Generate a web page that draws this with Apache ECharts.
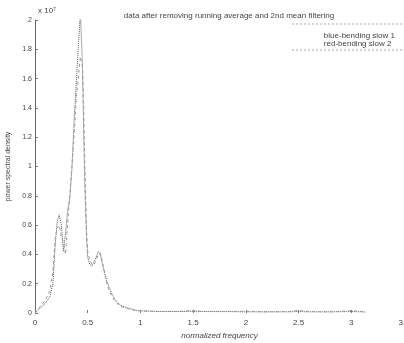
<!DOCTYPE html>
<html>
<head>
<meta charset="UTF-8">
<title>PSD</title>
<script src="https://cdn.jsdelivr.net/npm/echarts@6/dist/echarts.min.js"></script>
<style>
  html, body { margin: 0; padding: 0; background: #fff; }
  #main { width: 404px; height: 343px; }
</style>
</head>
<body>
<div id="main"></div>
<script type="text/javascript">
// normalized frequency samples
var freqs = [0, 0.03, 0.06, 0.1, 0.14, 0.17, 0.19, 0.21, 0.23, 0.25,
  0.27, 0.29, 0.31, 0.33, 0.35, 0.37, 0.39, 0.41, 0.43, 0.45,
  0.46, 0.47, 0.48, 0.49, 0.5, 0.52, 0.54, 0.56, 0.58, 0.6,
  0.62, 0.64, 0.66, 0.68, 0.7, 0.73, 0.76, 0.8, 0.85, 0.9,
  0.95, 1.0, 1.1, 1.2, 1.4, 1.5, 1.6, 1.8, 2.0, 2.2,
  2.4, 2.5, 2.6, 2.8, 3.0, 3.1, 3.14];
// blue-bending slow 1
var slow1 = [0, 0.02, 0.04, 0.07, 0.11, 0.2, 0.45, 0.62, 0.67, 0.6,
  0.42, 0.55, 0.7, 0.78, 0.98, 1.3, 1.55, 1.8, 2.05, 1.7,
  1.3, 0.95, 0.7, 0.5, 0.38, 0.33, 0.32, 0.35, 0.38, 0.42,
  0.4, 0.33, 0.27, 0.22, 0.18, 0.13, 0.09, 0.06, 0.04, 0.03,
  0.02, 0.015, 0.012, 0.01, 0.01, 0.012, 0.01, 0.01, 0.008, 0.008,
  0.008, 0.01, 0.008, 0.008, 0.01, 0.008, 0.006];
// red-bending slow 2
var slow2 = [0, 0.03, 0.05, 0.09, 0.15, 0.28, 0.5, 0.58, 0.6, 0.52,
  0.48, 0.4, 0.62, 0.8, 1.0, 1.2, 1.45, 1.6, 1.75, 1.68,
  1.45, 1.1, 0.8, 0.55, 0.42, 0.36, 0.33, 0.33, 0.36, 0.4,
  0.41, 0.35, 0.28, 0.2, 0.16, 0.11, 0.08, 0.05, 0.035, 0.025,
  0.018, 0.014, 0.012, 0.01, 0.012, 0.018, 0.01, 0.01, 0.012, 0.008,
  0.01, 0.018, 0.01, 0.008, 0.016, 0.01, 0.008];

function pairs(ys) {
  return freqs.map(function (f, i) { return [f, ys[i]]; });
}

var chart = echarts.init(document.getElementById('main'));
var font = 'Liberation Sans, Arial, sans-serif';

chart.setOption({
  animation: false,
  backgroundColor: '#fff',
  title: {
    text: 'data after removing running average and 2nd mean filtering',
    left: 224, textAlign: 'center', top: 7,
    textStyle: { fontSize: 8, fontWeight: 'normal', color: '#444', fontFamily: font }
  },
  legend: {
    data: ['blue-bending slow 1', 'red-bending slow 2'],
    orient: 'vertical',
    right: 4, top: 27,
    itemGap: 0, itemWidth: 0, itemHeight: 0,
    icon: 'none',
    textStyle: { fontSize: 8, color: '#444', fontFamily: font }
  },
  graphic: [
    { type: 'line', shape: { x1: 292, y1: 24, x2: 402, y2: 24 },
      style: { stroke: '#aaa', lineWidth: 1, lineDash: [2, 2] } },
    { type: 'line', shape: { x1: 292, y1: 50, x2: 402, y2: 50 },
      style: { stroke: '#aaa', lineWidth: 1, lineDash: [2, 2] } },
    { type: 'text', left: 38, top: 7,
      style: { text: 'x 10⁷', fontSize: 8, fill: '#444', fontFamily: font } }
  ],
  grid: { left: 35, right: 0, top: 20, bottom: 30, outerBoundsMode: 'none', containLabel: false },
  xAxis: {
    type: 'value', min: 0, max: 3.5, interval: 0.5,
    name: 'normalized frequency', nameLocation: 'middle', nameGap: 18,
    nameTextStyle: { fontSize: 8, color: '#444', fontStyle: 'italic', fontFamily: font },
    axisLine: { show: false },
    axisTick: { show: true, inside: true, length: 3, lineStyle: { color: '#777' } },
    splitLine: { show: false },
    axisLabel: { fontSize: 8, color: '#444', margin: 6, fontFamily: font, showMaxLabel: true,
      formatter: function (v) { return String(v); } }
  },
  yAxis: {
    type: 'value', min: 0, max: 2, interval: 0.2,
    name: 'power spectral density', nameLocation: 'middle', nameGap: 14,
    nameTextStyle: { fontSize: 7, color: '#444', fontFamily: font },
    axisLine: { show: true, lineStyle: { color: '#666', width: 1 } },
    axisTick: { show: true, inside: true, length: 3, lineStyle: { color: '#777' } },
    splitLine: { show: false },
    axisLabel: { fontSize: 7, color: '#444', margin: 3, fontFamily: font,
      formatter: function (v) { return (v === 0 || v === 1 || v === 2) ? String(v) : v.toFixed(1); } }
  },
  series: [
    {
      name: 'blue-bending slow 1', type: 'line', data: pairs(slow1),
      showSymbol: false, symbol: 'none', clip: true,
      lineStyle: { color: '#555', width: 1, type: 'dotted' },
      itemStyle: { color: '#555' }
    },
    {
      name: 'red-bending slow 2', type: 'line', data: pairs(slow2),
      showSymbol: false, symbol: 'none', clip: true,
      lineStyle: { color: '#999', width: 1, type: [3, 3] },
      itemStyle: { color: '#999' }
    }
  ]
});
</script>
</body>
</html>
